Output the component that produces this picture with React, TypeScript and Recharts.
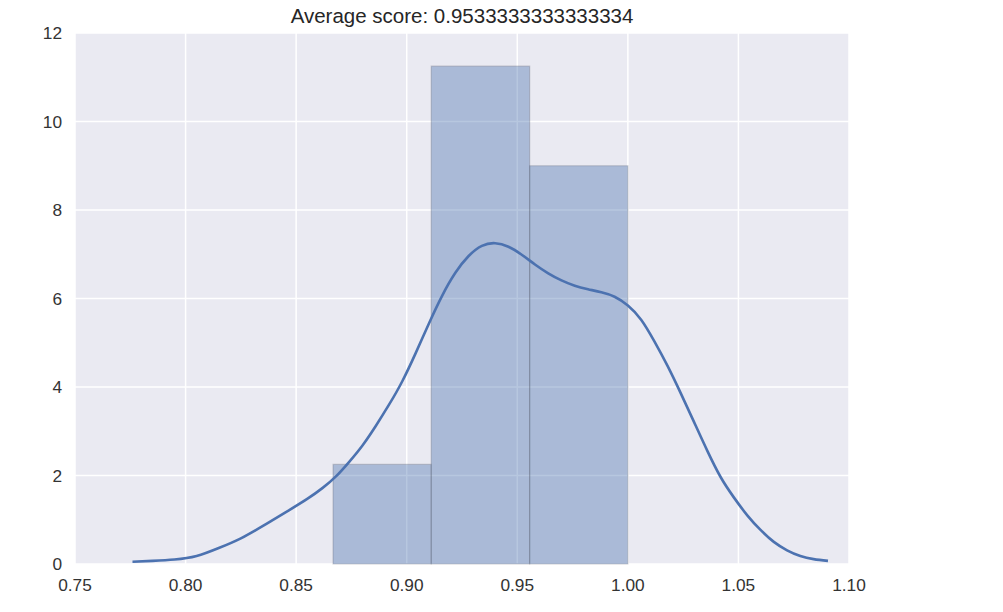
import { ComposedChart, Line, XAxis, YAxis, CartesianGrid, ReferenceArea } from 'recharts'

// histogram bins (density) + kde curve
const binEdges = [0.8667, 0.9111, 0.9556, 1.0]
const binDensity = [2.25, 11.25, 9.0]

const kdeX = [
  0.776, 0.785, 0.795, 0.805, 0.815, 0.825, 0.835, 0.845, 0.855, 0.862, 0.868, 0.874, 0.88, 0.886, 0.892,
  0.898, 0.904, 0.91, 0.916, 0.922, 0.928, 0.934, 0.94, 0.946, 0.952, 0.958, 0.964, 0.97, 0.976, 0.982,
  0.988, 0.994, 1.0, 1.006, 1.012, 1.018, 1.024, 1.03, 1.036, 1.042, 1.048, 1.054, 1.06, 1.066, 1.072,
  1.078, 1.084, 1.0905,
]
const kdeY = [
  0.05, 0.07, 0.1, 0.18, 0.36, 0.58, 0.86, 1.16, 1.47, 1.72, 1.98, 2.31, 2.68, 3.12, 3.6,
  4.13, 4.76, 5.43, 6.06, 6.58, 6.96, 7.19, 7.25, 7.17, 6.99, 6.77, 6.57, 6.41, 6.29, 6.21,
  6.14, 6.04, 5.84, 5.52, 5.03, 4.47, 3.85, 3.2, 2.55, 1.96, 1.5, 1.1, 0.77, 0.5, 0.31,
  0.18, 0.11, 0.07,
]

const xTicks = [0.75, 0.8, 0.85, 0.9, 0.95, 1.0, 1.05, 1.1]
const yTicks = [0, 2, 4, 6, 8, 10, 12]
const title = 'Average score: 0.9533333333333334'

const BLUE = '#4C72B0'
const FONT = '"Liberation Sans", Arial, sans-serif'

export default function App() {
  const kde = kdeX.map((x, i) => ({ x, y: kdeY[i] }))
  const tick = { fill: '#333333', fontSize: 17.3, fontFamily: FONT }

  return (
    <div style={{ position: 'absolute', left: 0, top: 0, width: 1003, height: 612, background: '#fff' }}>
      <div
        style={{
          position: 'absolute',
          left: 75,
          width: 774,
          top: 6,
          textAlign: 'center',
          fontFamily: FONT,
          fontSize: 20.5,
          lineHeight: 1,
          color: '#262626',
        }}
      >
        {title}
      </div>
      <ComposedChart width={1003} height={612} data={kde} margin={{ top: 33, right: 154, bottom: 8, left: 15 }}>
        <CartesianGrid fill="#EAEAF2" stroke="#ffffff" strokeWidth={1.5} />
        <XAxis
          dataKey="x"
          type="number"
          domain={[0.75, 1.1]}
          ticks={xTicks}
          tickFormatter={(v: number) => v.toFixed(2)}
          axisLine={false}
          tickLine={false}
          tickSize={0}
          tickMargin={15}
          height={40}
          tick={tick}
          allowDataOverflow
        />
        <YAxis
          type="number"
          domain={[0, 12]}
          ticks={yTicks}
          axisLine={false}
          tickLine={false}
          tickSize={0}
          tickMargin={13}
          width={60}
          tick={tick}
          allowDataOverflow
        />
        {binDensity.map((h, i) => (
          <ReferenceArea
            key={i}
            x1={binEdges[i]}
            x2={binEdges[i + 1]}
            y1={0}
            y2={h}
            fill={BLUE}
            fillOpacity={0.4}
            stroke="rgba(70,75,90,0.25)"
            strokeWidth={1.2}
          />
        ))}
        <Line
          dataKey="y"
          type="natural"
          stroke={BLUE}
          strokeWidth={2.6}
          dot={false}
          activeDot={false}
          isAnimationActive={false}
        />
      </ComposedChart>
    </div>
  )
}
